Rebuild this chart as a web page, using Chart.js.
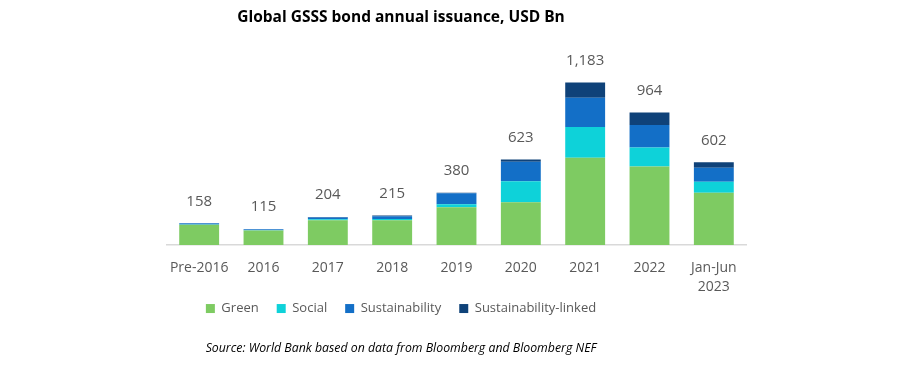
<!DOCTYPE html>
<html>
<head>
<meta charset="utf-8">
<script src="https://cdn.jsdelivr.net/npm/chart.js@4"></script>
<style>
  body { margin: 0; background: #fff; }
  #wrap { width: 920px; height: 365px; }
</style>
</head>
<body>
<div id="wrap"><canvas id="chart" width="920" height="365"></canvas></div>
<script>
const categories = ['Pre-2016', '2016', '2017', '2018', '2019', '2020', '2021', '2022', ['Jan-Jun', '2023']];
const green = [148, 105, 180, 180, 275, 311, 635, 571, 381];
const social = [2, 2, 7, 10, 22, 153, 224, 139, 80];
const sustainability = [8, 8, 14, 20, 80, 142, 212, 163, 102];
const sustainabilityLinked = [0, 0, 3, 5, 3, 17, 112, 91, 39];
const totals = [158, 115, 204, 215, 380, 623, 1183, 964, 602];

const grey = '#595959';

// totals written above each stack
const totalLabels = {
    id: 'totalLabels',
    afterDatasetsDraw(chart) {
        const { ctx, scales: { x, y } } = chart;
        ctx.save();
        ctx.font = '15px "Open Sans"';
        ctx.fillStyle = grey;
        ctx.textAlign = 'center';
        ctx.textBaseline = 'middle';
        totals.forEach((t, i) => {
            const top = green[i] + social[i] + sustainability[i] + sustainabilityLinked[i];
            ctx.fillText(t.toLocaleString('en-US'), x.getPixelForValue(i), y.getPixelForValue(top) - 22);
        });
        ctx.restore();
    }
};

new Chart(document.getElementById('chart'), {
    type: 'bar',
    data: {
        labels: categories,
        datasets: [
            { label: 'Green', data: green, backgroundColor: '#7ecb62' },
            { label: 'Social', data: social, backgroundColor: '#0ed2d9' },
            { label: 'Sustainability', data: sustainability, backgroundColor: '#136fc7' },
            { label: 'Sustainability-linked', data: sustainabilityLinked, backgroundColor: '#0f4279' }
        ]
    },
    options: {
        responsive: false,
        animation: false,
        barPercentage: 0.62,
        categoryPercentage: 1,
        layout: { padding: { left: 0, right: 118, top: 0, bottom: 0 } },
        scales: {
            x: {
                stacked: true,
                grid: { display: false, drawTicks: false },
                border: { display: true, color: '#d9d9d9', width: 1.5 },
                ticks: { color: grey, font: { family: 'Open Sans', size: 14, lineHeight: 1.4 }, padding: 13, maxRotation: 0 },
                afterFit: s => { s.height = 52; }
            },
            y: {
                stacked: true,
                min: 0,
                max: 1400,
                grid: { display: false },
                border: { display: false },
                ticks: { display: false },
                afterFit: s => { s.width = 167; }
            },
            yRight: {
                position: 'right',
                grid: { display: false },
                border: { display: false },
                ticks: { display: false },
                afterFit: s => { s.width = 56; }
            }
        },
        plugins: {
            title: {
                display: true,
                text: 'Global GSSS bond annual issuance, USD Bn',
                color: '#000',
                font: { family: 'Open Sans', size: 15.5, weight: 'bold', lineHeight: 1.2 },
                padding: { top: 8, bottom: 26 }
            },
            legend: {
                position: 'bottom',
                labels: {
                    color: grey,
                    boxWidth: 9,
                    boxHeight: 9,
                    padding: 5,
                    font: { family: 'Open Sans', size: 13 },
                    // pad the gap after each item except the last
                    generateLabels(chart) {
                        const items = Chart.defaults.plugins.legend.labels.generateLabels(chart);
                        items.forEach((it, i) => { if (i < items.length - 1) it.text += '\u2002\u2002'; });
                        return items;
                    }
                }
            },
            subtitle: {
                display: true,
                position: 'bottom',
                text: 'Source: World Bank based on data from Bloomberg and Bloomberg NEF',
                color: '#000',
                font: { family: 'Open Sans', size: 12.3, style: 'italic', lineHeight: 1.2 },
                padding: { top: 15.7, bottom: 9.5 }
            },
            tooltip: { enabled: false }
        }
    },
    plugins: [totalLabels]
});
</script>
</body>
</html>
